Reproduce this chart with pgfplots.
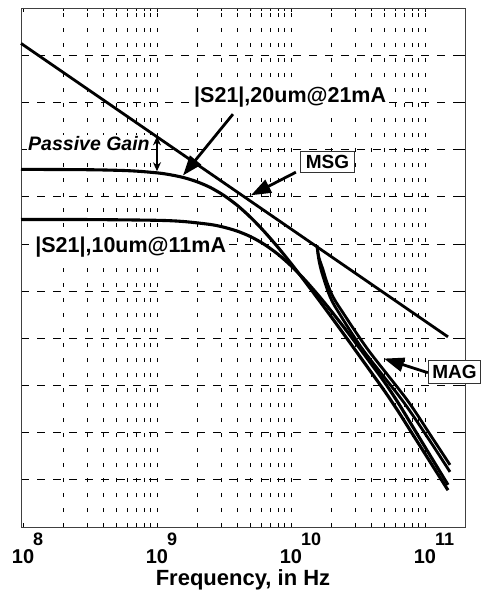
\documentclass[border=0pt]{standalone}
\usepackage{fontspec}
\setmainfont{Liberation Sans}
\usepackage{pgfplots}
\pgfplotsset{compat=1.18}
\usetikzlibrary{arrows.meta}

\newcommand\pw[1]{10\rlap{\kern-1pt\raisebox{18pt}{\fontsize{18}{18}\selectfont #1}}}

\pgfplotstableread{
lf y
7.985 7.580
8.500 7.572
8.800 7.550
9.000 7.506
9.100 7.465
9.200 7.405
9.300 7.316
9.400 7.193
9.500 7.026
9.600 6.815
9.700 6.559
9.800 6.264
9.900 5.938
10.000 5.588
10.100 5.220
10.200 4.842
10.300 4.456
10.400 4.065
10.500 3.671
10.600 3.274
10.700 2.876
10.800 2.453
10.900 2.003
11.000 1.554
11.100 1.104
11.172 0.780
}\sTwentyum

\pgfplotstableread{
lf y
7.985 6.518
8.500 6.516
9.000 6.500
9.200 6.474
9.400 6.411
9.500 6.353
9.600 6.270
9.700 6.152
9.800 5.992
9.900 5.788
10.000 5.538
10.100 5.249
10.200 4.926
10.300 4.579
10.400 4.215
10.500 3.837
10.600 3.452
10.700 3.062
10.800 2.633
10.900 2.167
11.000 1.698
11.100 1.230
11.172 0.893
}\sTenum

\pgfplotstableread{
lf y
7.985 10.25
11.172 4.03
}\msg

\pgfplotstableread{
lf y
10.194 5.966
10.205 5.711
10.224 5.456
10.254 5.180
10.291 4.883
10.343 4.607
10.537 3.758
10.828 2.696
11.022 1.890
11.187 1.168
}\magA

\pgfplotstableread{
lf y
10.194 5.966
10.209 5.711
10.239 5.456
10.269 5.180
10.313 4.883
10.373 4.607
10.575 3.758
10.866 2.696
11.045 1.932
11.187 1.316
}\magB

\begin{document}
\begin{tikzpicture}
\begin{axis}[
  at={(0,0)}, anchor=south west,
  width=444pt, height=519pt, scale only axis,
  xmin=7.985, xmax=11.299, ymin=0, ymax=11,
  clip=false,
  xtick={8,9,10,11},
  xticklabels={\pw{8},\pw{9},\pw{10},\pw{11}},
  minor xtick={8.301,8.477,8.602,8.699,8.778,8.845,8.903,8.954,9,
               9.301,9.477,9.602,9.699,9.778,9.845,9.903,9.954,10,
               10.301,10.477,10.602,10.699,10.778,10.845,10.903,10.954,11},
  ytick={1,...,10}, yticklabels={},
  xminorgrids=true, ymajorgrids=true, xmajorgrids=false,
  minor grid style={dash pattern=on 4pt off 11pt, line width=0.7pt, black},
  major grid style={dash pattern=on 8pt off 8pt, line width=0.7pt, black},
  tick align=inside,
  major tick length=4pt, minor tick length=3pt,
  every tick/.style={black, line width=0.7pt},
  axis line style={line width=0.8pt, black!75},
  xticklabel style={font=\fontsize{20}{24}\selectfont\bfseries, inner sep=0pt, yshift=-6pt},
  xlabel={Frequency, in Hz},
  xlabel style={font=\fontsize{22}{26}\selectfont\bfseries, at={(axis description cs:0.5,0)}, anchor=base, yshift=-58pt},
]
\addplot[black, line width=2.8pt] table[x=lf, y=y] {\msg};
\addplot[black, line width=3.1pt, smooth] table[x=lf, y=y] {\sTwentyum};
\addplot[black, line width=3.1pt, smooth] table[x=lf, y=y] {\sTenum};
\addplot[black, line width=2.8pt, smooth] table[x=lf, y=y] {\magA};
\addplot[black, line width=2.8pt, smooth] table[x=lf, y=y] {\magB};

% annotations
\node[anchor=base west, inner sep=1.5pt, fill=white, font=\fontsize{21.5}{24}\selectfont\bfseries] at (axis cs:9.265,9.00) {|S21|,20um@21mA};
\node[anchor=base west, inner sep=1.5pt, fill=white, font=\fontsize{21.5}{24}\selectfont\bfseries] at (axis cs:8.079,5.82) {|S21|,10um@11mA};
\node[anchor=base west, inner sep=1pt, fill=white, font=\fontsize{19.5}{22}\selectfont\bfseries\itshape] at (axis cs:8.030,7.98) {Passive Gain};
\draw[line width=1.6pt, {Stealth[length=9pt,width=8pt]}-{Stealth[length=9pt,width=8pt]}] (axis cs:9.0,8.28) -- (axis cs:9.0,7.54);
\draw[line width=2.8pt, -{Triangle[length=20pt,width=14pt]}] (axis cs:9.567,8.75) -- (axis cs:9.194,7.45);
\draw[line width=2.8pt, -{Triangle[length=20pt,width=14pt]}] (axis cs:10.037,7.52) -- (axis cs:9.701,7.03);
\draw[line width=2.8pt, -{Triangle[length=20pt,width=14pt]}] (axis cs:11.022,3.27) -- (axis cs:10.694,3.57);
\node[draw=black!80, line width=0.8pt, fill=white, inner xsep=5pt, inner ysep=4pt, text height=13pt, text depth=0pt, font=\fontsize{19}{22}\selectfont\bfseries] at (axis cs:10.272,7.74) {MSG};
\node[draw=black!80, line width=0.8pt, fill=white, anchor=west, inner xsep=4pt, inner ysep=5pt, text height=13pt, text depth=0pt, font=\fontsize{19}{22}\selectfont\bfseries] at (axis cs:11.022,3.28) {MAG};
\end{axis}
\pgfresetboundingbox
\path[use as bounding box] (-21pt,-63pt) rectangle (460pt,527pt);
\end{tikzpicture}
\end{document}
